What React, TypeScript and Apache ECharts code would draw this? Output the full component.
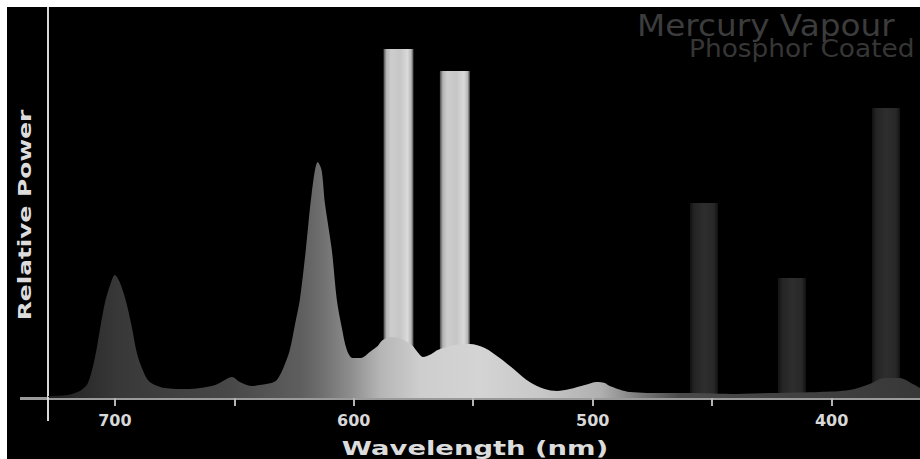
import React, { useEffect, useRef } from "react";
import * as echarts from "echarts";

// Continuum (phosphor) emission: wavelength (nm) and relative power
const wavelengths = [
  728.0, 720.0, 714.7, 711.3, 708.4, 706.3, 704.2, 702.0, 700.0, 698.0, 695.5, 693.0,
  690.8, 688.0, 685.4, 679.1, 670.0, 664.4, 658.0, 654.0, 651.0, 647.7, 643.0, 639.3,
  634.5, 632.2, 629.5, 626.8, 624.5, 622.6, 620.1, 617.6, 615.1, 613.5, 612.1, 609.2,
  607.1, 605.0, 602.9, 600.5, 597.0, 593.3, 590.0, 587.9, 584.0, 580.0, 575.7, 573.0,
  571.1, 567.5, 564.9, 558.0, 551.5, 545.2, 538.9, 532.6, 526.4, 520.1, 515.0, 509.6,
  503.3, 498.3, 495.0, 492.9, 484.5, 470.0, 459.4, 440.0, 423.8, 405.0, 392.5, 384.1,
  378.0, 371.5, 366.0, 363.0,
];
const power = [
  2, 3, 7, 15, 40, 68, 95, 113, 123, 116, 98, 72,
  45, 26, 16, 10, 9, 10, 13, 18, 21, 16, 12, 13,
  15, 18, 30, 48, 75, 98, 148, 205, 236, 228, 195, 148,
  98, 70, 48, 40, 40, 46, 52, 58, 61, 59, 53, 45,
  41, 44, 48, 53, 54, 50, 40, 28, 16, 9, 7, 9,
  13, 16, 15, 12, 6, 5, 5, 4, 5, 6, 8, 14,
  20, 20, 14, 10,
];

// Mercury emission lines (visible, bright)
const brightLineWavelengths = [581.7, 558.1];
const brightLinePower = [349, 327];

// Mercury emission lines (violet / near UV, dim)
const dimLineWavelengths = [453.4, 416.6, 377.2];
const dimLinePower = [195, 120, 290];

// Axis ticks
const tickValues = [700, 650, 600, 550, 500, 450, 400];
const labelValues = [700, 600, 500, 400];

const xMin = 363;
const xMax = 728;
const yMax = 391;

export default function App() {
  const ref = useRef<HTMLDivElement>(null);

  useEffect(() => {
    if (!ref.current) return;
    const chart = echarts.init(ref.current, undefined, { renderer: "svg" });

    const continuumData = wavelengths.map((w, i) => [w, power[i]]);
    const brightData = brightLineWavelengths.map((w, i) => [w, brightLinePower[i]]);
    const dimData = dimLineWavelengths.map((w, i) => [w, dimLinePower[i]]);

    const brightBarColor = new echarts.graphic.LinearGradient(0, 0, 1, 0, [
      { offset: 0, color: "#4a4a4a" },
      { offset: 0.1, color: "#b4b4b4" },
      { offset: 0.25, color: "#cdcdcd" },
      { offset: 0.55, color: "#c6c6c6" },
      { offset: 0.8, color: "#dadada" },
      { offset: 0.92, color: "#b8b8b8" },
      { offset: 1, color: "#454545" },
    ]);
    const dimBarColor = new echarts.graphic.LinearGradient(0, 0, 1, 0, [
      { offset: 0, color: "#121212" },
      { offset: 0.15, color: "#242424" },
      { offset: 0.5, color: "#2e2e2e" },
      { offset: 0.85, color: "#282828" },
      { offset: 1, color: "#121212" },
    ]);
    const continuumColor = new echarts.graphic.LinearGradient(0, 0, 1, 0, [
      { offset: 0, color: "#1e1e1e" },
      { offset: 0.079, color: "#383838" },
      { offset: 0.209, color: "#484848" },
      { offset: 0.289, color: "#5e5e5e" },
      { offset: 0.31, color: "#6c6c6c" },
      { offset: 0.346, color: "#8c8c8c" },
      { offset: 0.381, color: "#b5b5b5" },
      { offset: 0.427, color: "#cecece" },
      { offset: 0.495, color: "#d4d4d4" },
      { offset: 0.564, color: "#c8c8c8" },
      { offset: 0.633, color: "#b0b0b0" },
      { offset: 0.679, color: "#7a7a7a" },
      { offset: 0.725, color: "#4a4a4a" },
      { offset: 1, color: "#383838" },
    ]);

    chart.setOption({
      animation: false,
      backgroundColor: "#000000",
      grid: { left: 41, right: 0, top: 0, bottom: 61, outerBoundsMode: "none", containLabel: false },
      xAxis: {
        type: "value",
        min: xMin,
        max: xMax,
        inverse: true,
        axisLine: { show: true, lineStyle: { color: "#9a9a9a", width: 3 } },
        axisTick: {
          show: true,
          customValues: tickValues,
          length: 8,
          lineStyle: { color: "#b4b4b4", width: 2 },
        },
        axisLabel: {
          show: true,
          customValues: labelValues,
          margin: 14,
          color: "#d8d8d8",
          fontFamily: "DejaVu Sans",
          fontWeight: "bold",
          fontSize: 16,
        },
        splitLine: { show: false },
      },
      yAxis: {
        type: "value",
        min: 0,
        max: yMax,
        axisLine: { show: true, lineStyle: { color: "#d8d8d8", width: 2 } },
        axisTick: { show: false },
        axisLabel: { show: false },
        splitLine: { show: false },
      },
      series: [
        {
          type: "bar",
          name: "Hg lines",
          data: brightData,
          barWidth: 30,
          barGap: "-100%",
          itemStyle: { color: brightBarColor },
          z: 2,
        },
        {
          type: "bar",
          name: "Hg UV lines",
          data: dimData,
          barWidth: 28,
          barGap: "-100%",
          itemStyle: { color: dimBarColor },
          z: 2,
        },
        {
          type: "line",
          name: "Phosphor",
          data: continuumData,
          smooth: 0.3,
          symbol: "none",
          lineStyle: { width: 0 },
          areaStyle: { color: continuumColor, opacity: 1 },
          z: 3,
        },
      ],
      graphic: [
        {
          type: "line",
          shape: { x1: 13, y1: 391.5, x2: 41, y2: 391.5 },
          style: { stroke: "#9a9a9a", lineWidth: 3 },
          z: 10,
        },
        {
          type: "line",
          shape: { x1: 41, y1: 390, x2: 41, y2: 414 },
          style: { stroke: "#d8d8d8", lineWidth: 2 },
          z: 10,
        },
        {
          type: "text",
          x: 630,
          y: 18,
          scaleX: 1.09,
          style: {
            text: "Mercury Vapour",
            fill: "#3c3c3c",
            font: "30px 'DejaVu Sans'",
            align: "left",
            verticalAlign: "middle",
          },
          z: 10,
        },
        {
          type: "text",
          x: 682,
          y: 42,
          scaleX: 1.1,
          style: {
            text: "Phosphor Coated",
            fill: "#363636",
            font: "24px 'DejaVu Sans'",
            align: "left",
            verticalAlign: "middle",
          },
          z: 10,
        },
        {
          type: "text",
          x: 468,
          y: 441,
          scaleX: 1.37,
          style: {
            text: "Wavelength (nm)",
            fill: "#dcdcdc",
            font: "bold 20px 'DejaVu Sans'",
            align: "center",
            verticalAlign: "middle",
          },
          z: 10,
        },
        {
          type: "text",
          x: 18,
          y: 208,
          rotation: Math.PI / 2,
          scaleX: 1.38,
          style: {
            text: "Relative Power",
            fill: "#dcdcdc",
            font: "bold 18px 'DejaVu Sans'",
            align: "center",
            verticalAlign: "middle",
          },
          z: 10,
        },
      ],
    });

    return () => chart.dispose();
  }, []);

  return (
    <div
      ref={ref}
      style={{ position: "fixed", left: 7, top: 7, width: 913, height: 452 }}
    />
  );
}
